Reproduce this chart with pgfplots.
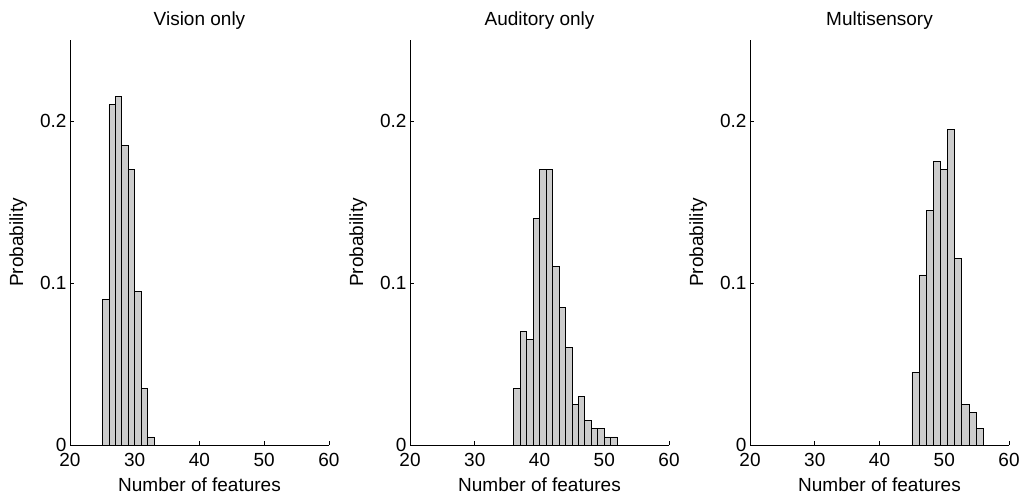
\documentclass[border=0pt]{standalone}
\usepackage{fontspec}
\setmainfont{Liberation Sans}
\usepackage{pgfplots}
\pgfplotsset{compat=1.18}
\definecolor{barfill}{HTML}{CCCCCC}

\pgfplotsset{
  histpanel/.style={
    scale only axis, width=259pt, height=405pt,
    xmin=20, xmax=60, ymin=0, ymax=0.25,
    enlargelimits=false,
    axis lines=left, axis line style={-, black, line width=0.8pt},
    tick align=inside, major tick length=4pt,
    tick style={black, line width=0.8pt},
    xtick={20,30,40,50,60}, ytick={0,0.1,0.2},
    /pgf/number format/assume math mode=true,
    tick label style={font=\fontsize{19}{22}\selectfont},
    xticklabel style={yshift=-5pt},
    every axis title/.style={at={(axis description cs:0.5,1.037)}, anchor=base,
      font=\fontsize{19}{22}\selectfont},
    every axis x label/.style={at={(axis description cs:0.5,-0.1136)}, anchor=base,
      font=\fontsize{19}{22}\selectfont},
    every axis y label/.style={at={(axis description cs:-0.2,0.5)}, rotate=90, anchor=center,
      font=\fontsize{19}{22}\selectfont},
    xlabel={Number of features}, ylabel={Probability},
    clip=false,
  },
  histbars/.style={ybar interval, fill=barfill, draw=black, line width=0.7pt},
}

\begin{document}
\begin{tikzpicture}
\useasboundingbox (0,0) rectangle (1019pt,494pt);

% Vision only
\begin{axis}[histpanel, at={(70pt,49pt)}, anchor=south west, title={Vision only}]
\addplot[histbars] coordinates {
  (25,0.090) (26,0.210) (27,0.215) (28,0.185) (29,0.170) (30,0.095)
  (31,0.035) (32,0.005) (33,0.005)};
\end{axis}

% Auditory only
\begin{axis}[histpanel, at={(410pt,49pt)}, anchor=south west, title={Auditory only}]
\addplot[histbars] coordinates {
  (36,0.035) (37,0.070) (38,0.065) (39,0.140) (40,0.170) (41,0.170)
  (42,0.110) (43,0.085) (44,0.060) (45,0.025) (46,0.030) (47,0.015)
  (48,0.010) (49,0.010) (50,0.005) (51,0.005) (52,0.005)};
\end{axis}

% Multisensory
\begin{axis}[histpanel, at={(750pt,49pt)}, anchor=south west, title={Multisensory}]
\addplot[histbars] coordinates {
  (45.0,0.045) (46.1,0.105) (47.2,0.145) (48.3,0.175) (49.4,0.170)
  (50.5,0.195) (51.6,0.115) (52.7,0.025) (53.8,0.020) (54.9,0.010)
  (56.0,0.010)};
\end{axis}
\end{tikzpicture}
\end{document}
